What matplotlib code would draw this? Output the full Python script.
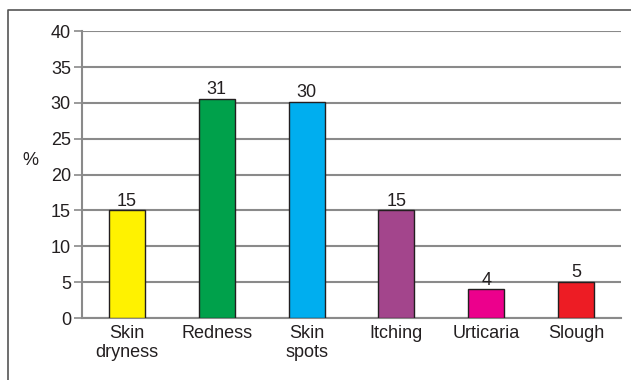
import matplotlib.pyplot as plt
from matplotlib.lines import Line2D

plt.rcParams["font.family"] = ["Liberation Sans", "DejaVu Sans"]

categories = ["Skin\ndryness", "Redness", "Skin\nspots", "Itching", "Urticaria", "Slough"]
percent = [15, 30.6, 30.1, 15, 4, 5]
colors = ["#fff200", "#00a14b", "#00aeef", "#a3458c", "#ec008c", "#ed1c24"]
yticks = [0, 5, 10, 15, 20, 25, 30, 35, 40]

grid_gray = "#8a8a8a"
text_color = "#231f20"
fs = 13

fig = plt.figure(figsize=(6.31, 3.80), dpi=100)
ax = fig.add_axes([0.130, 0.163, 0.854, 0.755])

x = range(len(categories))
bars = ax.bar(x, percent, width=0.40, color=colors, edgecolor="#231f20",
              linewidth=1.0, zorder=3)
for rect, v in zip(bars, percent):
    ax.text(rect.get_x() + rect.get_width() / 2, rect.get_height() + 0.1,
            f"{v:.0f}", ha="center", va="bottom", fontsize=fs, color=text_color)

ax.set_xlim(-0.5, len(categories) - 0.5)
ax.set_ylim(0, 40)
ax.set_yticks(yticks)
ax.set_xticks(list(x))
ax.set_xticklabels(categories, fontsize=fs, color=text_color, linespacing=1.15)
ax.tick_params(axis="y", labelsize=fs, labelcolor=text_color, length=6,
               width=1.2, color=grid_gray, pad=2)
ax.tick_params(axis="x", length=0, pad=5)

ax.grid(axis="y", color=grid_gray, linewidth=1.5, zorder=0)
for side in ("top", "right"):
    ax.spines[side].set_visible(False)
for side in ("left", "bottom"):
    ax.spines[side].set_color(grid_gray)
    ax.spines[side].set_linewidth(1.5)

ax.set_ylabel("%", rotation=0, fontsize=fs, color=text_color)
ax.yaxis.set_label_coords(-0.095, 0.52)

# open frame around the figure: left and top edges only
fig.add_artist(Line2D([0.012, 0.012, 1.0], [0.0, 0.973, 0.973],
                      transform=fig.transFigure, color="#555555", linewidth=1.2))

fig.savefig("out.png", dpi=100)
